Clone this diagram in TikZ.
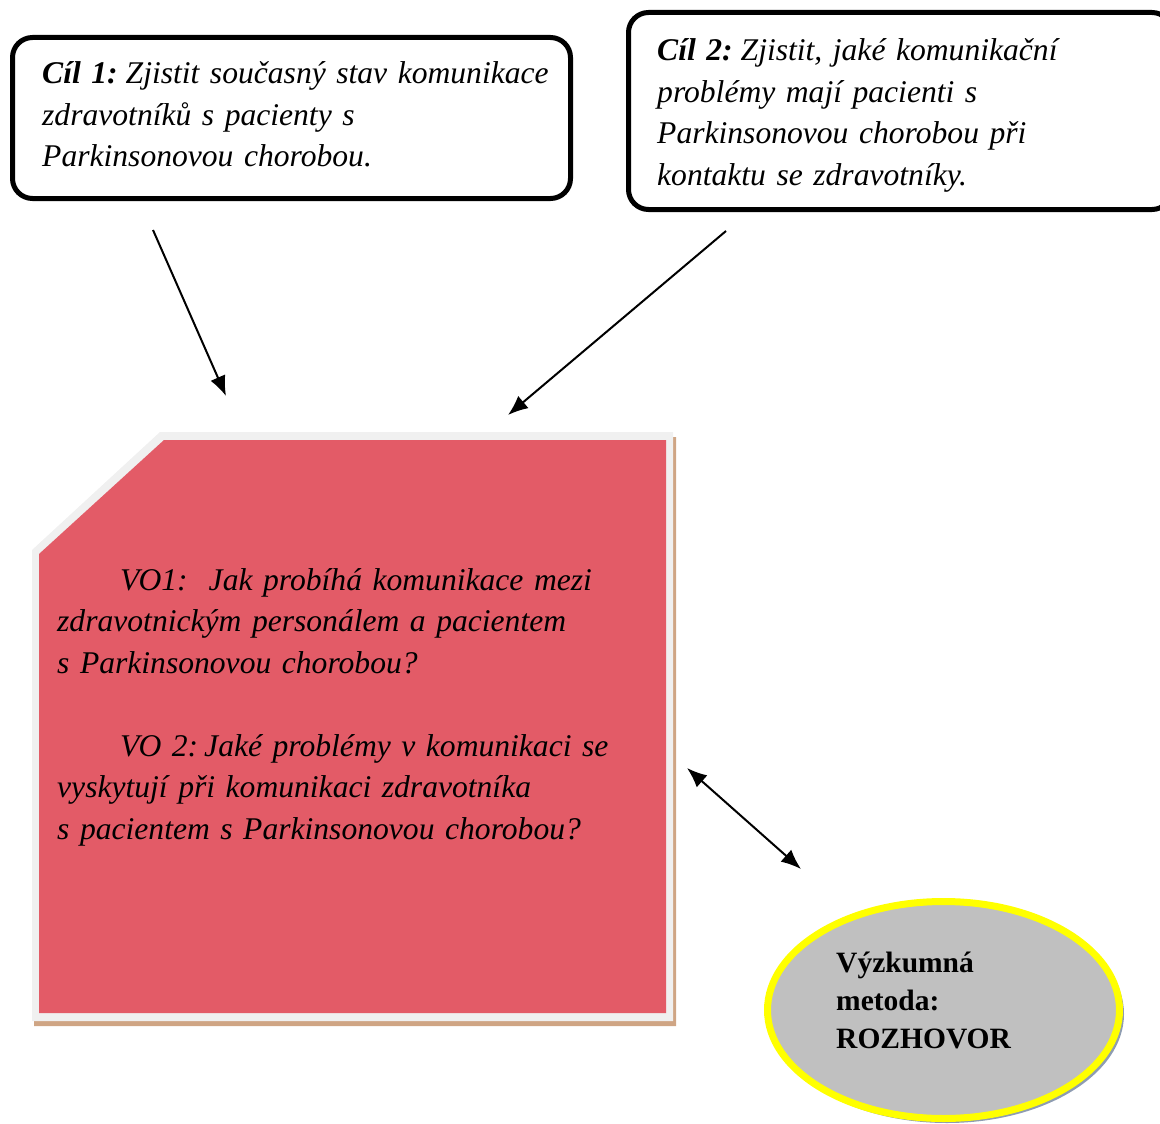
\documentclass[tikz,border=0pt]{standalone}
\usepackage{fontspec}
\setmainfont{Liberation Serif}
\usetikzlibrary{arrows.meta}

\definecolor{petal}{HTML}{E35B67}
\definecolor{rim}{HTML}{F0F0F0}
\definecolor{tanshadow}{HTML}{CFA584}
\definecolor{pebble}{HTML}{C0C0C0}
\definecolor{halo}{HTML}{FFFF00}
\definecolor{slate}{HTML}{8E9CB2}

\begin{document}
\begin{tikzpicture}[x=1pt,y=-1pt,
  goalbox/.style={draw=black, line width=5pt, rounded corners=20pt, fill=white},
  bodytext/.style={anchor=base west, inner sep=0pt, align=left, text width=620pt,
    font=\fontsize{31.6}{41.5}\selectfont\itshape},
  goaltext/.style={bodytext},
  methodtext/.style={anchor=base west, inner sep=0pt, align=left, text width=300pt,
    font=\fontsize{29.5}{38}\selectfont\bfseries},
  link/.style={line width=2pt, -{Latex[length=20pt,width=16pt]}},
  twoway/.style={line width=2pt, {Latex[length=20pt,width=16pt]}-{Latex[length=20pt,width=16pt]}}
]
\useasboundingbox (0,0) rectangle (1160,1124);
\clip (0,0) rectangle (1160,1124);

% goal boxes
\draw[goalbox] (12.5,37.5) rectangle (570.5,198.5);
\draw[goalbox] (628.5,12.5) rectangle (1172,209.5);

\node[goaltext] (goalA) at (42,84)
  {\textbf{Cíl 1:}\hspace{8pt}Zjistit současný stav komunikace\\
   zdravotníků s pacienty s\\
   Parkinsonovou chorobou.};
\node[goaltext] (goalB) at (657,61)
  {\textbf{Cíl 2:}\hspace{8pt}Zjistit, jaké komunikační\\
   problémy mají pacienti s\\
   Parkinsonovou chorobou při\\
   kontaktu se zdravotníky.};

% research questions: snipped-corner card with rim and shadow
\fill[tanshadow] (162,437) -- (676,437) -- (676,1026) -- (34,1026) -- (34,555) -- cycle;
\fill[rim] (160,432) -- (673,432) -- (673,1021) -- (32,1021) -- (32,550) -- cycle;
\fill[petal] (164,440) -- (666,440) -- (666,1013) -- (39,1013) -- (39,554) -- cycle;

\node[bodytext] (questions) at (57,590)
  {\hspace*{63pt}VO1:\ \ Jak probíhá komunikace mezi\\
   zdravotnickým personálem a pacientem\\
   s Parkinsonovou chorobou?\\[41.5pt]
   \hspace*{63pt}VO 2:\hspace{6pt}Jaké problémy v komunikaci se\\
   vyskytují při komunikaci zdravotníka\\
   s pacientem s Parkinsonovou chorobou?};

% research method ellipse
\fill[slate] (947,1014) ellipse (177 and 109);
\draw[halo, line width=7pt, fill=pebble] (943.5,1010) ellipse (176 and 108.5);
\node[methodtext] (method) at (836,972)
  {Výzkumná\\ metoda:\\ ROZHOVOR};

% connectors
\coordinate (goalAfoot) at (153,230);
\coordinate (goalBfoot) at (726,231);
\coordinate (cardtopA) at (226,396);
\coordinate (cardtopB) at (508,415);
\coordinate (cardside) at (687,768);
\coordinate (methodtop) at (801,869);

\draw[link] (goalAfoot) -- (cardtopA);
\draw[link] (goalBfoot) -- (cardtopB);
\draw[twoway] (cardside) -- (methodtop);
\end{tikzpicture}
\end{document}
